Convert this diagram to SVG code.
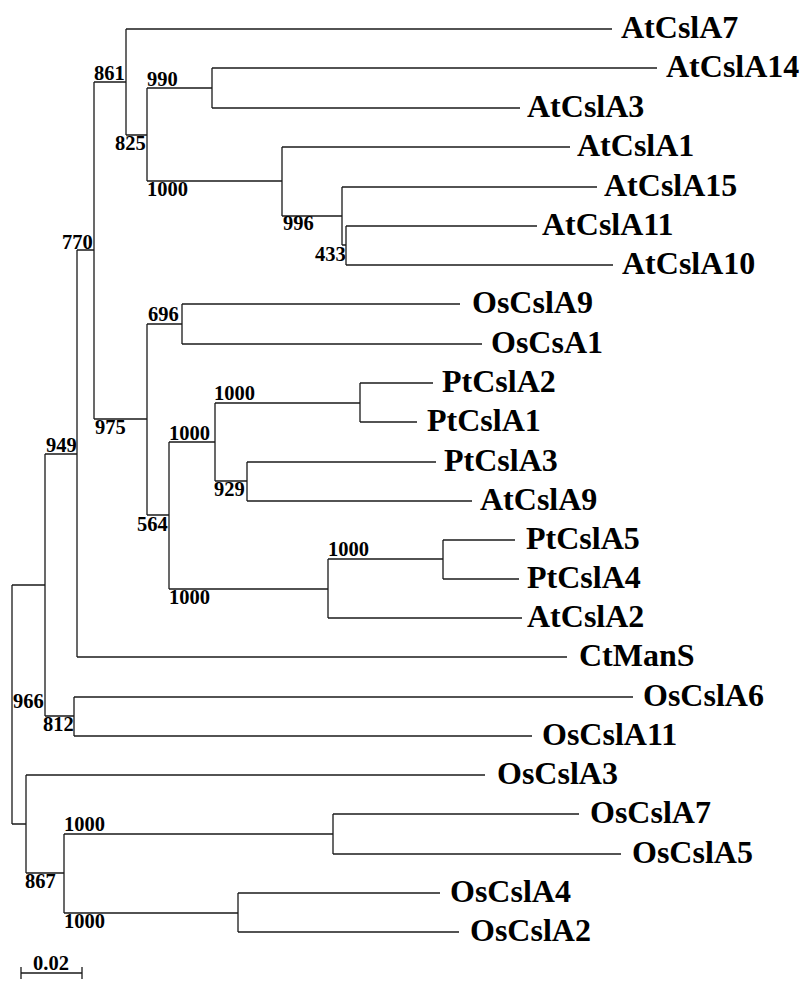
<svg xmlns="http://www.w3.org/2000/svg" width="807" height="981" viewBox="0 0 807 981">
  <style>
    .br { fill: none; stroke: #1a1a1a; stroke-width: 1.3; }
    .leaf { font-family: "Liberation Serif", "Times New Roman", serif; font-weight: bold; font-size: 32px; fill: #000; }
    .bs { font-family: "Liberation Serif", "Times New Roman", serif; font-weight: bold; font-size: 20.5px; fill: #000; }
  </style>
  <rect width="807" height="981" fill="#fff"/>

  <!-- branches of the rectangular cladogram -->
  <g id="connectors" class="br">
    <!-- root and deep splits -->
    <path d="M12 585 V824"/>
    <path d="M12 585 H45 M45 454 V716"/>
    <path d="M12 824 H26 M26 775 V873"/>
    <path d="M45 454 H77 M77 250 V657"/>
    <path d="M45 716 H74 M74 697 V736"/>
    <path d="M77 250 H94 M94 82 V419"/>
    <!-- AtCslA clade -->
    <path d="M94 82 H126 M126 29 V135"/>
    <path d="M126 135 H147 M147 88 V181"/>
    <path d="M147 88 H212 M212 68 V108"/>
    <path d="M147 181 H282 M282 147 V216"/>
    <path d="M282 216 H342 M342 187 V245"/>
    <path d="M342 245 H346 M346 226 V265"/>
    <!-- mixed clade -->
    <path d="M94 419 H147 M147 324 V515"/>
    <path d="M147 324 H182 M182 304 V344"/>
    <path d="M147 515 H169 M169 442 V589"/>
    <path d="M169 442 H215 M215 403 V481"/>
    <path d="M215 403 H360 M360 383 V422"/>
    <path d="M215 481 H247 M247 462 V501"/>
    <path d="M169 589 H328 M328 559 V618"/>
    <path d="M328 559 H443 M443 540 V579"/>
    <!-- OsCslA lower clade -->
    <path d="M26 873 H64 M64 834 V913"/>
    <path d="M64 834 H333 M333 814 V854"/>
    <path d="M64 913 H238 M238 893 V932"/>
    <!-- terminal branches -->
    <path d="M126 29 H612"/>
    <path d="M212 68 H657"/>
    <path d="M212 108 H520"/>
    <path d="M282 147 H570"/>
    <path d="M342 187 H597"/>
    <path d="M346 226 H537"/>
    <path d="M346 265 H613"/>
    <path d="M182 304 H460"/>
    <path d="M182 344 H482"/>
    <path d="M360 383 H433"/>
    <path d="M360 422 H417"/>
    <path d="M247 462 H436"/>
    <path d="M247 501 H472"/>
    <path d="M443 540 H515"/>
    <path d="M443 579 H519"/>
    <path d="M328 618 H522"/>
    <path d="M77 657 H567"/>
    <path d="M74 697 H633"/>
    <path d="M74 736 H532"/>
    <path d="M26 775 H485"/>
    <path d="M333 814 H579"/>
    <path d="M333 854 H621"/>
    <path d="M238 893 H440"/>
    <path d="M238 932 H459"/>
    <!-- scale bar -->
    <path d="M21 967 V979 M21 973 H82 M82 967 V979"/>
  </g>

  <!-- taxa -->
  <g id="AtCslA7"><text class="leaf" x="621" y="38">AtCslA7</text></g>
  <g id="AtCslA14"><text class="leaf" x="666" y="77">AtCslA14</text></g>
  <g id="AtCslA3"><text class="leaf" x="527" y="117">AtCslA3</text></g>
  <g id="AtCslA1"><text class="leaf" x="577" y="156">AtCslA1</text></g>
  <g id="AtCslA15"><text class="leaf" x="604" y="196">AtCslA15</text></g>
  <g id="AtCslA11"><text class="leaf" x="542" y="235">AtCslA11</text></g>
  <g id="AtCslA10"><text class="leaf" x="622" y="274">AtCslA10</text></g>
  <g id="OsCslA9"><text class="leaf" x="472" y="313">OsCslA9</text></g>
  <g id="OsCsA1"><text class="leaf" x="491" y="353">OsCsA1</text></g>
  <g id="PtCslA2"><text class="leaf" x="442" y="392">PtCslA2</text></g>
  <g id="PtCslA1"><text class="leaf" x="427" y="431">PtCslA1</text></g>
  <g id="PtCslA3"><text class="leaf" x="444" y="471">PtCslA3</text></g>
  <g id="AtCslA9"><text class="leaf" x="480" y="510">AtCslA9</text></g>
  <g id="PtCslA5"><text class="leaf" x="526" y="549">PtCslA5</text></g>
  <g id="PtCslA4"><text class="leaf" x="527" y="588">PtCslA4</text></g>
  <g id="AtCslA2"><text class="leaf" x="527" y="627">AtCslA2</text></g>
  <g id="CtManS"><text class="leaf" x="579" y="666">CtManS</text></g>
  <g id="OsCslA6"><text class="leaf" x="643" y="706">OsCslA6</text></g>
  <g id="OsCslA11"><text class="leaf" x="542" y="745">OsCslA11</text></g>
  <g id="OsCslA3"><text class="leaf" x="497" y="784">OsCslA3</text></g>
  <g id="OsCslA7"><text class="leaf" x="590" y="823">OsCslA7</text></g>
  <g id="OsCslA5"><text class="leaf" x="632" y="863">OsCslA5</text></g>
  <g id="OsCslA4"><text class="leaf" x="450" y="902">OsCslA4</text></g>
  <g id="OsCslA2"><text class="leaf" x="470" y="941">OsCslA2</text></g>

  <!-- bootstrap support values at internal nodes -->
  <g id="node-861"><text class="bs" x="94" y="80">861</text></g>
  <g id="node-990"><text class="bs" x="147" y="86">990</text></g>
  <g id="node-825"><text class="bs" x="115" y="150">825</text></g>
  <g id="node-1000-at1"><text class="bs" x="147" y="196">1000</text></g>
  <g id="node-996"><text class="bs" x="283" y="230">996</text></g>
  <g id="node-433"><text class="bs" x="315" y="261">433</text></g>
  <g id="node-770"><text class="bs" x="62" y="249">770</text></g>
  <g id="node-696"><text class="bs" x="148" y="321">696</text></g>
  <g id="node-975"><text class="bs" x="95" y="434">975</text></g>
  <g id="node-1000-pt12"><text class="bs" x="214" y="400">1000</text></g>
  <g id="node-1000-pt"><text class="bs" x="169" y="440">1000</text></g>
  <g id="node-949"><text class="bs" x="46" y="452">949</text></g>
  <g id="node-929"><text class="bs" x="214" y="496">929</text></g>
  <g id="node-564"><text class="bs" x="137" y="531">564</text></g>
  <g id="node-1000-pt45"><text class="bs" x="328" y="556">1000</text></g>
  <g id="node-1000-at2"><text class="bs" x="169" y="604">1000</text></g>
  <g id="node-966"><text class="bs" x="13" y="708">966</text></g>
  <g id="node-812"><text class="bs" x="43" y="731">812</text></g>
  <g id="node-1000-os75"><text class="bs" x="64" y="831">1000</text></g>
  <g id="node-867"><text class="bs" x="25" y="888">867</text></g>
  <g id="node-1000-os42"><text class="bs" x="64" y="928">1000</text></g>

  <!-- scale bar label -->
  <g id="scale"><text class="bs" x="33" y="970">0.02</text></g>
</svg>
